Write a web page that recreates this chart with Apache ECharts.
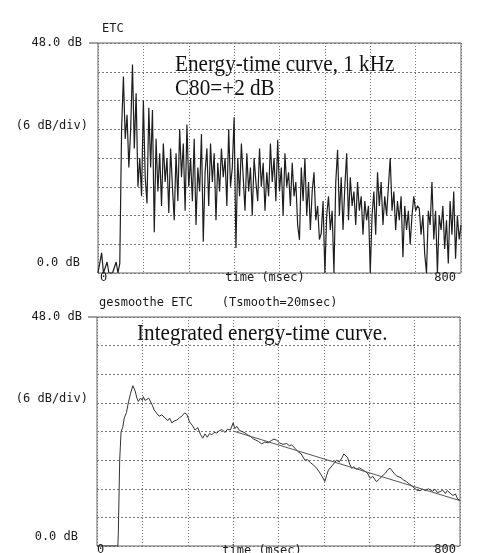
<!DOCTYPE html>
<html>
<head>
<meta charset="utf-8">
<script src="https://cdn.jsdelivr.net/npm/echarts@6/dist/echarts.min.js"></script>
<style>
  html, body { margin: 0; padding: 0; background: #fff; }
  #chart { width: 482px; height: 553px; }
</style>
</head>
<body>
<div id="chart"></div>
<script>
// raw ETC, one value every 4 msec from 0 to 800 msec (dB)
var etcStep = 4;
var etcDb = [
  0, 0, 4.2, 0, 0, 2.3, 0, 0, 0, 0, 2.3, 0, 2,
  30, 41, 28, 33, 22, 30, 43.5, 26, 37.5, 18, 24, 16, 36, 20, 14.5, 34.5, 22, 34, 8.5, 28,
  17, 25, 14, 27, 19, 24, 12.5, 26, 18, 11, 25, 15, 30, 20, 27, 13, 31, 18, 24, 15, 28,
  10, 22, 17, 29, 6.5, 21, 26, 14, 27, 19, 25, 11, 23, 17, 26, 20, 24, 14, 30, 18, 22,
  32.5, 5.2, 24, 16, 27, 20, 13, 25, 17, 22, 12, 24, 19, 15, 26, 18, 23, 13, 21, 16,
  27, 19, 24, 15, 27.8, 17, 22, 12, 25, 18, 21, 14, 23, 16, 19, 10, 6.9, 22, 15, 24,
  12, 19, 9, 17, 21, 11, 14, 7, 8.3, 15, 0, 12, 16, 9, 13, 0, 19, 25.7, 12, 20, 9, 18,
  25, 11, 20, 14, 17, 10, 19, 13, 16, 8, 15, 11, 14, 0, 12, 17, 8, 21, 14, 19, 10, 16,
  12, 18, 24, 13, 17, 9, 15, 11, 16, 3.3, 14, 9, 13, 6, 12, 16, 13, 14, 13.5, 8, 12, 4,
  0, 13, 10, 19, 7, 13, 0, 12, 9, 14, 5, 11, 2, 15, 8, 17, 3, 12, 7, 10
];

// smoothed ETC (Tsmooth = 20 msec)
var smoothT = [0, 46, 47, 50, 53, 57, 60, 65, 69, 74, 79, 84, 88, 91, 96, 100, 102, 106, 110, 114,
  117, 122, 126, 131, 137, 143, 150, 156, 160, 165, 170, 176, 182, 188, 193, 198, 204, 210, 216, 222,
  228, 233, 238, 243, 248, 253, 258, 264, 270, 276, 282, 288, 294, 300, 304, 308, 314, 320, 326, 332,
  338, 344, 350, 356, 363, 370, 377, 384, 390, 396, 402, 410, 418, 424, 429, 436, 443, 450, 458, 464,
  470, 477, 484, 490, 496, 502, 506, 510, 514, 518, 522, 528, 534, 540, 544, 547, 552, 556, 561, 566,
  572, 578, 583, 590, 596, 602, 608, 612, 616, 622, 626, 631, 636, 641, 646, 650, 655, 660, 664, 670,
  676, 682, 688, 694, 700, 705, 712, 718, 724, 730, 734, 740, 745, 750, 756, 762, 768, 772, 778, 784,
  790, 795, 800];
var smoothDb = [0, 0, 2.7, 18, 23.9, 25, 26.8, 28, 30, 32, 33.6, 32.5, 31, 30.3, 31, 30.5, 31.3, 30.5, 30.2, 31,
  30.6, 29.5, 28.5, 27.9, 27.2, 27.5, 26.8, 26.3, 26.8, 25.8, 26.2, 26.4, 26.9, 27.3, 27.9, 27.6, 26, 25.3, 24.3, 24.8,
  23.4, 22.6, 23.5, 22.8, 23.6, 23.3, 23.8, 23.7, 24.2, 24.4, 23.8, 24.5, 24.3, 25.8, 24.6, 25.1, 24.2, 24.0, 23.7, 23.3,
  23.0, 22.5, 22.2, 21.9, 21.4, 21.8, 21.6, 22.1, 22.4, 22.2, 21.6, 21.3, 21.5, 21.0, 21.2, 20.5, 19.8, 19.3, 18, 18.1,
  17.5, 17, 16.3, 15.5, 14.6, 13.5, 14.8, 15.9, 16.3, 16.8, 16.5, 18, 17.6, 18.5, 19.3, 19.5, 18.6, 17.4, 16.3, 16.6,
  16.1, 16.4, 16.1, 15.7, 15.3, 14.2, 14.6, 14.0, 13.5, 14.0, 14.3, 14.9, 15.3, 16.0, 16.3, 16.1, 15.2, 14.7, 14.9, 14.3,
  13.8, 13.5, 13.0, 12.6, 12.1, 11.7, 11.6, 11.9, 11.6, 12.0, 11.9, 11.5, 11.9, 11.2, 11.4, 11.7, 11.0, 11.6, 11.1, 10.6,
  10.9, 9.8, 9.6];

// straight decay fit
var fitT = [300, 800];
var fitDb = [24.1, 9.5];

var mono = 'DejaVu Sans Mono';
var serif = 'Liberation Serif';

function pairs(xs, ys){
  var out = [];
  for(var i=0; i<ys.length; i++){
    out.push([xs[i], ys[i]]);
  }
  return out;
}
var etcT = etcDb.map(function(v, i){ return i * etcStep; });

function xAx(idx){
  return {
    type: 'value', gridIndex: idx, min: 0, max: 800, interval: 100,
    axisLine: { show: false }, axisTick: { show: false }, axisLabel: { show: false },
    splitLine: { show: true, lineStyle: { color: '#777', type: [1, 2], width: 1 } }
  };
}
function yAx(idx){
  return {
    type: 'value', gridIndex: idx, min: 0, max: 48, interval: 6,
    axisLine: { show: false }, axisTick: { show: false }, axisLabel: { show: false },
    splitLine: { show: true, lineStyle: { color: '#777', type: [2, 2], width: 1 } }
  };
}

function txt(x, y, s, align, opt){
  opt = opt || {};
  return {
    type: 'text', x: x, y: y, z: 100,
    scaleX: opt.scaleX || 1,
    style: {
      text: s, fill: opt.fill || '#1a1a1a',
      fontFamily: opt.family || mono, fontSize: opt.size || 12,
      align: align, verticalAlign: 'middle'
    }
  };
}
function tick(x1, x2, y){
  return { type: 'line', z: 100, shape: { x1: x1, y1: y, x2: x2, y2: y }, style: { stroke: '#444', lineWidth: 1 } };
}

var chart = echarts.init(document.getElementById('chart'));
var option = {
  backgroundColor: '#fff',
  animation: false,
  grid: [
    { left: 98, top: 43, width: 363, height: 230, show: true, borderColor: '#666', borderWidth: 1 },
    { left: 97, top: 317, width: 363, height: 229, show: true, borderColor: '#666', borderWidth: 1 }
  ],
  xAxis: [xAx(0), xAx(1)],
  yAxis: [yAx(0), yAx(1)],
  series: [
    {
      type: 'line', xAxisIndex: 0, yAxisIndex: 0, data: pairs(etcT, etcDb),
      symbol: 'none', lineStyle: { color: '#1e1e1e', width: 1.2 }
    },
    {
      type: 'line', xAxisIndex: 1, yAxisIndex: 1, data: pairs(smoothT, smoothDb),
      symbol: 'none', lineStyle: { color: '#333', width: 1 }
    },
    {
      type: 'line', xAxisIndex: 1, yAxisIndex: 1, data: pairs(fitT, fitDb),
      symbol: 'none', lineStyle: { color: '#555', width: 1 }
    }
  ],
  graphic: [
    // top panel
    txt(102, 29, 'ETC', 'left'),
    txt(82, 43, '48.0 dB', 'right'), tick(89, 98, 43),
    txt(88, 126, '(6 dB/div)', 'right'),
    txt(80, 263, '0.0 dB', 'right'),
    txt(100, 278, '0', 'left'),
    txt(265, 278, 'time (msec)', 'center'),
    txt(456, 278, '800', 'right'),
    txt(175, 65, 'Energy-time curve, 1 kHz', 'left', { family: serif, size: 23, scaleX: 0.92, fill: '#111' }),
    txt(175, 89, 'C80=+2 dB', 'left', { family: serif, size: 23, scaleX: 0.92, fill: '#111' }),
    // bottom panel
    txt(99, 303, 'gesmoothe ETC    (Tsmooth=20msec)', 'left'),
    txt(82, 317, '48.0 dB', 'right'), tick(88, 97, 317),
    txt(88, 399, '(6 dB/div)', 'right'),
    txt(78, 537, '0.0 dB', 'right'),
    txt(97, 550, '0', 'left'),
    txt(262, 551, 'time (msec)', 'center'),
    txt(456, 550, '800', 'right'),
    txt(137, 334, 'Integrated energy-time curve.', 'left', { family: serif, size: 23, scaleX: 0.92, fill: '#111' })
  ]
};
chart.setOption(option);
</script>
</body>
</html>
